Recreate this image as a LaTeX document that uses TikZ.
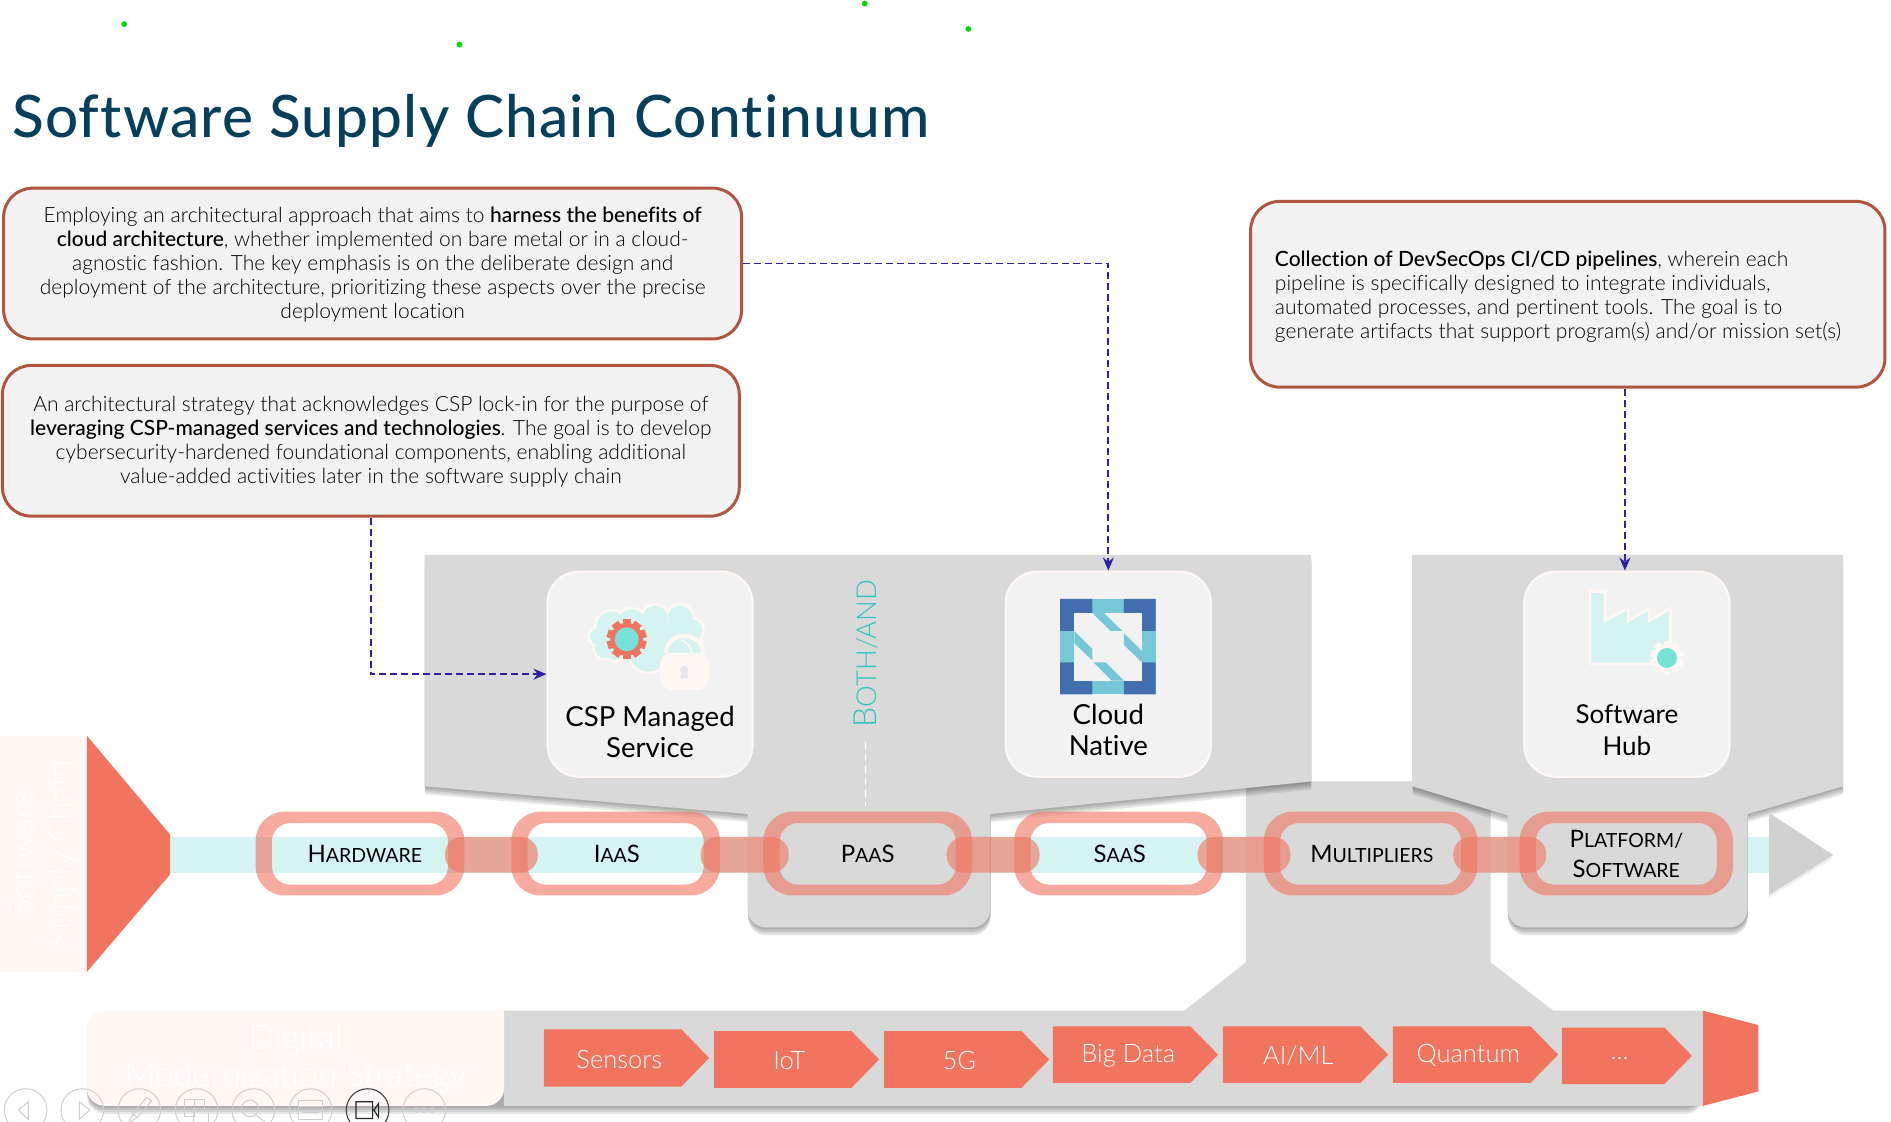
\documentclass[tikz,border=0pt]{standalone}
\usepackage{fontspec}
\setmainfont{Lato Light}[BoldFont={Lato Medium},Ligatures=NoCommon]
\newfontfamily\titlefont{Lato Medium}[LetterSpace=2.05,Ligatures=NoCommon]
\newfontfamily\regfont{Lato}[Ligatures=NoCommon]
\usetikzlibrary{arrows.meta,calc}
\definecolor{salmon}{HTML}{F0745E}
\definecolor{panelgray}{HTML}{D9D9D9}
\definecolor{bandteal}{HTML}{D5F3F0}
\definecolor{pale}{HTML}{FFF7F4}
\definecolor{boxfill}{HTML}{F2F2F2}
\definecolor{boxedge}{HTML}{B0553F}
\definecolor{conncol}{HTML}{2E1FA3}
\definecolor{cncfblue}{HTML}{426DAF}
\definecolor{cncfteal}{HTML}{76C7D8}
\definecolor{gearteal}{HTML}{78E2D8}
\definecolor{bothteal}{HTML}{30C5B8}
\definecolor{titlecol}{HTML}{063F5C}
\definecolor{tbgray}{HTML}{CFCFCF}
\def\uu{1.206pt}
\newcommand\sizedtext[2]{{\fontsize{#1}{#1}\selectfont #2}}
\newcommand\smcap[2]{\sizedtext{24}{#1}\sizedtext{19.5}{#2}}
\newcommand\softshadow[1]{\foreach \dd in {2,4,6,8}{\fill[black,opacity=.09,yshift=-\dd pt,xshift=.4pt] #1;}}
\newcommand\chainlink[5]{%
  \fill[linkfill,even odd rule,rounded corners=24*\uu] (#2,673) rectangle (#3,742.5)
    [rounded corners=15*\uu] ({#2+13.5},682.5) rectangle ({#3-13.5},733.5);
  \node[linktext] (#1) at ({(#2+#3)/2+#5},708) {#4};}
\newcommand\chainbar[2]{\fill[linkfill,rounded corners=14*\uu] (#1,694) rectangle (#2,723.5);}
\newcommand\chevron[6]{%
  \fill[salmon] (#2,#4) -- (#3,#4) -- ({#3+23},{(#4+#5)/2}) -- (#3,#5) -- (#2,#5) -- cycle;
  \node[chevtext] (#1) at ({(#2+#3+23)/2-6},{(#4+#5)/2+1}) {#6};}
\newcommand\gearicon[5]{%
  \foreach \aa in {0,36,...,324}{\fill[#5,shift={(#1,#2)},rotate=\aa] (-#4,0) rectangle (#4,#3);}
  \fill[#5] (#1,#2) circle[radius=#3*0.82];}
\tikzset{
  textbox/.style={draw=boxedge,line width=3pt,fill=boxfill,rounded corners=24*\uu,inner sep=0pt,minimum height=#1*\uu},
  tile/.style={draw=pale,line width=2.2pt,fill=boxfill,rounded corners=26*\uu,minimum width=170*\uu,minimum height=170*\uu,inner sep=0pt},
  conn/.style={draw=conncol,line width=1.8pt,dash pattern=on 7pt off 4pt,-{Stealth[length=13pt,width=11pt]}},
  linkfill/.style={fill=salmon,fill opacity=.6},
  linktext/.style={text=black,align=center,inner sep=0pt,font=\regfont\fontsize{24}{29}\selectfont},
  chevtext/.style={text=white,inner sep=0pt,font=\fontsize{25.5}{28}\selectfont},
  tilelabel/.style={text=black,align=center,inner sep=0pt,font=\regfont\fontsize{27.6}{31.4}\selectfont},
  boxtext/.style={font=\fontsize{21}{24.1}\selectfont,text=black,inner sep=0pt},
  ghost/.style={text=white,align=center,inner sep=0pt},
  tbicon/.style={draw=tbgray,line width=1pt},
}
\begin{document}
\begin{tikzpicture}[x=\uu,y=-\uu]
\useasboundingbox (0,0) rectangle (1568,930.35);
\clip (0,0) rectangle (1568,930.35);
\fill[white] (0,0) rectangle (1568,930.35);

% stray green dots
\foreach \gx/\gy in {103/20,381/37,717/3,803/24}{\fill[green!85!black] (\gx,\gy) circle[radius=2.4];}

% title
\node[anchor=base west,inner sep=0pt,text=titlecol,font=\titlefont\fontsize{58.5}{60}\selectfont] (title) at (10,114) {Software Supply Chain Continuum};

% main band
\fill[bandteal] (141,694) rectangle (1467,723.5);

% multipliers column + bottom bar
\def\pathmulti{(1033,648) -- (1236,648) -- (1236,798) -- (1288,838) -- (1412,838) -- (1412,917) -- (418,917) -- (418,838) -- (982,838) -- (1033,798) -- cycle}
\softshadow{(72,860) [rounded corners=18] -- (72,917) -- (1412,917) [sharp corners] -- (1412,860) -- cycle}
\fill[panelgray] \pathmulti;
\fill[pale,rounded corners=18] (418,838) -- (72,838) -- (72,917) -- (418,917) [sharp corners] -- cycle;
\fill[salmon] (1412,838) -- (1458,850) -- (1458,905) -- (1412,917) -- cycle;

% panels
\def\pathA{(352,460) -- (1087,460) -- (1087,648) -- (821,675) [rounded corners=18] -- (821,769) -- (620,769) [sharp corners] -- (620,675) -- (352,652) -- cycle}
\softshadow{\pathA}
\fill[panelgray] \pathA;
\def\pathB{(1171,460) -- (1528,460) -- (1528,652) -- (1449,675) [rounded corners=18] -- (1449,769) -- (1250,769) [sharp corners] -- (1250,676) -- (1171,652) -- cycle}
\softshadow{\pathB}
\fill[panelgray] \pathB;

% left marker and right arrow
\fill[pale] (0,610) rectangle (72,806);
\fill[salmon] (72,610) -- (141,692) -- (141,725) -- (72,806) -- cycle;
\fill[black,opacity=.06,yshift=-3pt] (1467,674) -- (1520,709) -- (1467,742) -- cycle;
\fill[black!18] (1467,674) -- (1520,709) -- (1467,742) -- cycle;

% chain bars and links
\chainbar{369}{446}
\chainbar{581}{654}
\chainbar{785}{862}
\chainbar{993}{1070}
\chainbar{1205}{1282}
\chainlink{hw}{212}{385}{\smcap{H}{ARDWARE}}{4}
\chainlink{iaas}{424}{597}{\smcap{I}{AA}\sizedtext{24}{S}}{1}
\chainlink{paas}{633}{806}{\smcap{P}{AA}\sizedtext{24}{S}}{0}
\chainlink{saas}{841}{1014}{\smcap{S}{AA}\sizedtext{24}{S}}{1}
\chainlink{multi}{1048}{1225}{\smcap{M}{ULTIPLIERS}}{1}
\chainlink{plat}{1260}{1437}{\smcap{P}{LATFORM/}\\[1pt]\smcap{S}{OFTWARE}}{0}

% tiles
\node[tile] (csp) at (539,559) {};
\node[tile] (cloud) at (919,559) {};
\node[tile] (hub) at (1349,559) {};
\node[tilelabel] (csplabel) at (539,607) {CSP Managed\\Service};
\node[tilelabel] (cloudlabel) at (919,605.5) {Cloud\\Native};
\node[tilelabel,font=\regfont\fontsize{26}{31.4}\selectfont] (hublabel) at (1349,605.5) {Software\\Hub};

% Both/And
\node[rotate=90,text=bothteal,inner sep=0pt] (both) at (718,542) {\sizedtext{32}{B}\sizedtext{27.5}{OTH/AND}};
\coordinate (bothend) at (718,668);
\coordinate (bothstart) at (718,615);
\draw[white,line width=1pt,dash pattern=on 7pt off 5pt] (bothstart) -- (bothend);

% CNCF icon
\begin{scope}[shift={(862.35,485.07)},x=.3333pt,y=-.3333pt]
\fill[cncfteal] (60,42) rectangle (347,328);
\fill[cncfblue] (60,42) rectangle (157,138) (252,42) rectangle (347,138) (60,232) rectangle (157,328) (252,232) rectangle (347,328);
\fill[boxfill] (103,84) rectangle (306,287);
\fill[cncfteal] (157,84) -- (192,84) -- (247,138) -- (212,138) -- cycle
 (252,145) -- (306,198) -- (306,232) -- (252,180) -- cycle
 (103,138) -- (157,192) -- (157,226) -- (103,175) -- cycle
 (160,232) -- (197,232) -- (252,287) -- (215,287) -- cycle;
\end{scope}

% cloud + lock icon
\begin{scope}[shift={(476.8,489.2)},x=.3333pt,y=-.3333pt]
\foreach \cx/\cy/\cr in {70/140/25,110/110/45,170/100/42,240/85/38,315/85/38,350/120/32,340/170/40,220/190/55,120/170/40,90/175/30}{\fill[pale] (\cx,\cy) circle[radius=\cr+8];}
\foreach \cx/\cy/\cr in {70/140/25,110/110/45,170/100/42,240/85/38,315/85/38,350/120/32,340/170/40,220/190/55,120/170/40,90/175/30}{\fill[bandteal] (\cx,\cy) circle[radius=\cr];}
\fill[bandteal] (110,100) rectangle (340,190);
\gearicon{155}{148}{60}{12}{salmon}
\fill[gearteal] (155,148) circle[radius=36];
\draw[pale,line width=4pt] (272,190) arc[start angle=180,end angle=360,x radius=56,y radius=52];
\draw[pale,line width=1.6pt] (318,150) .. controls (340,160) and (350,175) .. (352,190);
\fill[pale,rounded corners=12] (255,188) rectangle (402,300);
\fill[black!9] (328,240) circle[radius=13];
\fill[black!9] (321,245) -- (335,245) -- (341,265) -- (315,265) -- cycle;
\end{scope}

% factory icon
\begin{scope}[shift={(1301.8,480.9)},x=.3333pt,y=-.3333pt]
\draw[pale,line width=2.8pt,fill=bandteal] (60,32) -- (105,32) -- (105,122) -- (175,85) -- (175,122) -- (238,85) -- (238,122) -- (302,85) -- (302,252) -- (60,252) -- cycle;
\fill[pale] (55,28) rectangle (110,42);
\fill[bandteal] (66,40) rectangle (99,60);
\gearicon{291}{234}{52}{10}{pale}
\fill[gearteal] (291,234) circle[radius=30];
\end{scope}

% text boxes
\node[textbox=125,minimum width=612*\uu] (boxA) at (309,218.5) {};
\node[boxtext,align=center] (boxAtext) at (309,219.5) {Employing an architectural approach that aims to \textbf{harness the benefits of}\\\textbf{cloud architecture}, whether implemented on bare metal or in a cloud-\\agnostic fashion. The key emphasis is on the deliberate design and\\deployment of the architecture, prioritizing these aspects over the precise\\deployment location};
\node[textbox=125,minimum width=611*\uu] (boxB) at (307.5,365.5) {};
\node[boxtext,align=center] (boxBtext) at (307.5,366.5) {An architectural strategy that acknowledges CSP lock-in for the purpose of\\\textbf{leveraging CSP-managed services and technologies}. The goal is to develop\\cybersecurity-hardened foundational components, enabling additional\\value-added activities later in the software supply chain};
\node[textbox=154,minimum width=526*\uu] (boxC) at (1300,244) {};
\node[boxtext,anchor=west,align=left] (boxCtext) at (1057,246) {\textbf{Collection of DevSecOps CI/CD pipelines}, wherein each\\pipeline is specifically designed to integrate individuals,\\automated processes, and pertinent tools. The goal is to\\generate artifacts that support program(s) and/or mission set(s)};

% connectors
\draw[conn] (boxA.east) -| (cloud.north);
\draw[conn] (boxB.south) |- (csp.west);
\draw[conn] ([xshift=-2pt]hub.north |- boxC.south) -- ([xshift=-2pt]hub.north);

% hidden-tone captions
\node[ghost,rotate=90,font=\fontsize{33}{38}\selectfont] (scc) at (36,708) {Software\\Supply Chain};
\node[ghost,font=\fontsize{34}{37}\selectfont] (dms) at (245,878) {Digital\\Modernization Strategy};

% chevrons
\chevron{c1}{451}{565}{853.5}{901}{Sensors}
\chevron{c2}{592}{706}{855}{902}{IoT}
\chevron{c3}{733}{847}{855}{902}{5G}
\chevron{c4}{873}{987}{851}{898}{Big Data}
\chevron{c5}{1014}{1128}{851}{898}{AI/ML}
\chevron{c6}{1155}{1269}{851}{898}{Quantum}
\chevron{c7}{1295}{1380}{852}{899}{\raisebox{-5pt}{...}}

% viewer toolbar
\begin{scope}[shift={(0,879)},x=.3333pt,y=-.3333pt]
\foreach \tx in {77,247,418,590,760,932,1273}{\draw[tbicon] (\tx,150) circle[radius=64];}
\draw[black!75,line width=1.1pt] (1103,150) circle[radius=64];
\draw[tbicon] (85,125) -- (55,150) -- (85,178) -- cycle;
\draw[tbicon] (238,125) -- (270,150) -- (238,178) -- cycle;
\draw[tbicon] (440,112) -- (455,122) -- (412,172) -- (398,162) -- cycle (398,162) -- (385,190) -- (412,172);
\draw[tbicon] (555,118) rectangle (585,170) (585,118) rectangle (615,145) (582,145) rectangle (625,195);
\draw[tbicon] (750,145) circle[radius=25] (768,165) -- (795,185);
\draw[tbicon] (895,122) rectangle (968,178) (895,138) -- (968,138) (905,158) -- (958,158);
\draw[black!85,line width=1.2pt] (1068,125) rectangle (1118,175) (1122,150) -- (1136,130) -- (1136,172) -- cycle;
\foreach \dx in {1250,1272,1297}{\draw[tbicon] (\dx,150) circle[radius=7];}
\end{scope}
\end{tikzpicture}
\end{document}
